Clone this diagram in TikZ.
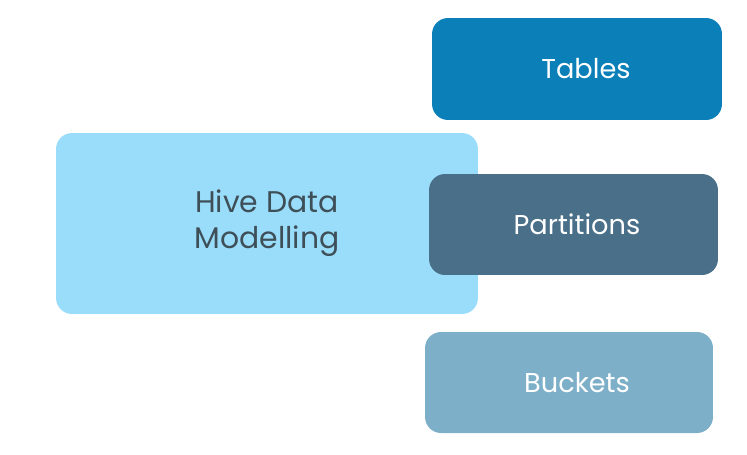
\documentclass[tikz,border=0pt]{standalone}
\usepackage{fontspec}
\setmainfont{Poppins}[Ligatures=NoCommon]
\usetikzlibrary{positioning}
\definecolor{ctables}{HTML}{0A7FB8}
\definecolor{cparts}{HTML}{4A7089}
\definecolor{chive}{HTML}{9ADDFB}
\definecolor{cbuckets}{HTML}{7DAFC8}
\definecolor{ctext}{HTML}{3E4F58}
\tikzset{
  every picture/.style={x=0.02cm, y=-0.02cm},
  block/.style={fill=#1, rounded corners=0.32cm, align=center, inner sep=0pt,
                font=\fontsize{17}{20.5}\selectfont, text=white},
  block/.default=cbuckets,
  label/.style={text=white, font=\fontsize{15.5}{19}\selectfont},
}
\begin{document}
\begin{tikzpicture}
  \useasboundingbox (0,0) rectangle (747,454);
  \node[block=chive, text=ctext, minimum width=8.44cm, minimum height=3.62cm] (hive) at (267,223.5) {Hive Data\\Modelling};
  \node[block=ctables, minimum width=5.8cm, minimum height=2.04cm] (tables) at (577,69) {};
  \node[block=cparts, minimum width=5.78cm, minimum height=2.02cm] (parts) at (573.5,224.5) {};
  \node[block=cbuckets, minimum width=5.76cm, minimum height=2.02cm] (buckets) at (569,382.5) {};
  \node[label] (tablestext) at ([xshift=0.18cm]tables.center) {Tables};
  \node[label] (partstext) at ([xshift=0.07cm]parts.center) {Partitions};
  \node[label] (bucketstext) at ([xshift=0.16cm]buckets.center) {Buckets};
\end{tikzpicture}
\end{document}
